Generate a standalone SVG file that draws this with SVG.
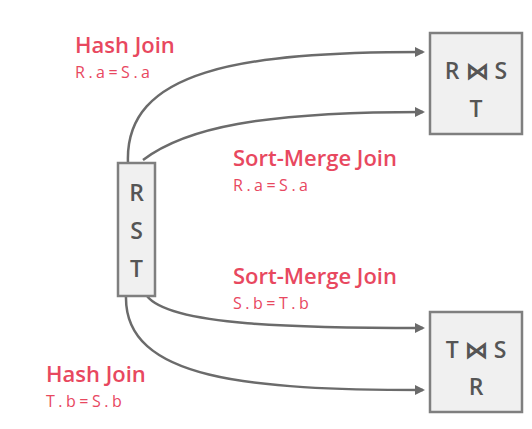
<svg xmlns="http://www.w3.org/2000/svg" width="532" height="429" viewBox="0 0 532 429">
<defs>
<style>
.box{fill:#f0f0f0;stroke:#7f7f7f;stroke-width:2.5}
.nt{font-family:"Open Sans","Noto Sans",sans-serif;font-size:23px;font-weight:600;fill:#555;text-anchor:middle}
.lbl{font-family:"Open Sans","Noto Sans",sans-serif;font-size:22px;font-weight:600;fill:#e8485f}
.cond{font-family:"Open Sans","Noto Sans",sans-serif;font-size:16px;fill:#e8485f;letter-spacing:3.5px}
.edge{fill:none;stroke:#6b6b6b;stroke-width:2.5}
</style>
<marker id="ah" markerWidth="10" markerHeight="10" refX="8" refY="5" orient="auto" markerUnits="userSpaceOnUse">
<path d="M0,0 L10,5 L0,10 Z" fill="#6b6b6b"/>
</marker>
</defs>
<rect width="532" height="429" fill="#fff"/>
<g id="connectors">
<path class="edge" d="M128,163 C124,70 240,52 423,52" marker-end="url(#ah)"/>
<path class="edge" d="M143,160 C185,128 260,112 423,112" marker-end="url(#ah)"/>
<path class="edge" d="M147,296 C170,326 300,328 423,328" marker-end="url(#ah)"/>
<path class="edge" d="M126,296 C124,380 250,390 423,390" marker-end="url(#ah)"/>
</g>
<g id="rst">
<rect class="box" x="118" y="163" width="37" height="133"/>
<text class="nt" x="136.5" y="201">R</text>
<text class="nt" x="136.5" y="239">S</text>
<text class="nt" x="136.5" y="277">T</text>
</g>
<g id="rs_t">
<rect class="box" x="430" y="33" width="92" height="101"/>
<text class="nt" x="476" y="79">R ⋈ S</text>
<text class="nt" x="476" y="117">T</text>
</g>
<g id="ts_r">
<rect class="box" x="430" y="312" width="92" height="100"/>
<text class="nt" x="476" y="358">T ⋈ S</text>
<text class="nt" x="476" y="395">R</text>
</g>
<g id="labels">
<text class="lbl" x="75" y="53">Hash Join</text>
<text class="cond" x="75" y="78">R.a=S.a</text>
<text class="lbl" x="233" y="166">Sort-Merge Join</text>
<text class="cond" x="233" y="191">R.a=S.a</text>
<text class="lbl" x="233" y="284">Sort-Merge Join</text>
<text class="cond" x="233" y="309">S.b=T.b</text>
<text class="lbl" x="46" y="382">Hash Join</text>
<text class="cond" x="46" y="407">T.b=S.b</text>
</g>
</svg>
